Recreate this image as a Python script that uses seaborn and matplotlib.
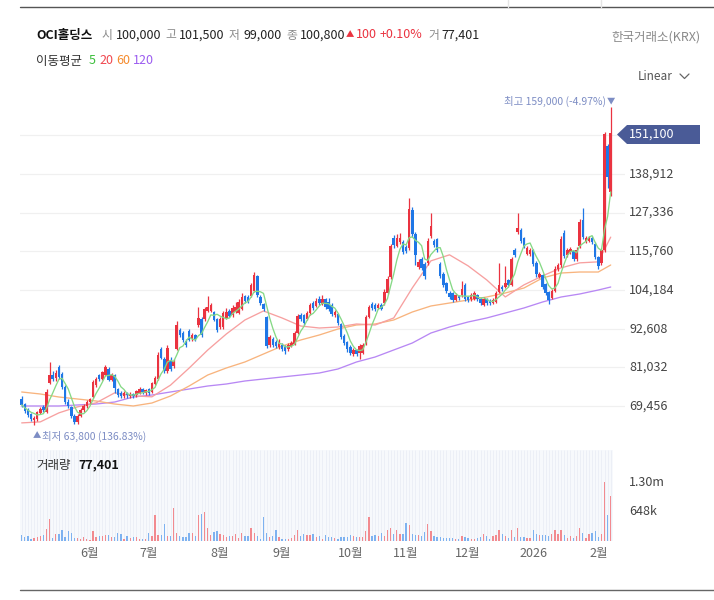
import numpy as np
import pandas as pd
import seaborn as sns
import matplotlib.pyplot as plt
from matplotlib.patches import Polygon
from matplotlib.lines import Line2D
from matplotlib.transforms import blended_transform_factory

# === Data (prices in thousand won, one entry per trading session) ===
open_k = [
    71.5, 70.0, 68.2, 67.0, 65.3, 65.5, 67.4, 69.2, 67.8, 76.4,
    78.8, 77.8, 81.0, 79.0, 75.0, 70.6, 69.2, 66.6, 64.8, 66.6,
    68.2, 69.4, 70.6, 72.2, 75.6, 78.6, 77.6, 78.8, 80.6, 77.2,
    78.6, 74.4, 73.2, 72.4, 73.2, 72.4, 73.0, 72.6, 73.4, 74.4,
    73.4, 74.4, 73.6, 76.0, 77.6, 86.6, 83.4, 79.8, 83.0, 81.4,
    86.6, 92.2, 91.2, 89.0, 91.8, 89.4, 90.6, 93.6, 95.6, 95.4,
    98.0, 98.0, 97.6, 95.4, 93.0, 93.2, 95.8, 97.8, 96.6, 97.6,
    97.4, 98.6, 102.4, 102.0, 102.4, 104.0, 108.4, 102.2, 100.0, 96.0,
    87.6, 89.6, 88.6, 87.2, 87.8, 87.0, 86.6, 87.4, 88.0, 91.4,
    96.8, 96.6, 95.6, 97.2, 100.2, 99.4, 101.6, 100.0, 101.4, 100.6,
    99.8, 96.6, 97.0, 94.0, 90.4, 88.6, 87.0, 85.0, 86.2, 85.2,
    85.4, 88.0, 96.2, 100.0, 99.8, 98.8, 99.8, 100.2, 103.4, 108.0,
    119.6, 117.4, 118.4, 118.6, 117.0, 116.6, 128.2, 121.0, 111.2, 113.4,
    112.0, 112.2, 120.2, 118.8, 119.4, 112.0, 109.0, 106.2, 103.4, 103.2,
    101.2, 102.4, 102.6, 105.8, 102.0, 101.4, 101.6, 102.6, 101.4, 99.8,
    101.4, 101.0, 100.4, 100.6, 103.6, 105.2, 105.2, 107.2, 105.8, 116.0,
    121.6, 122.2, 119.6, 115.0, 114.8, 116.0, 112.4, 108.2, 108.6, 106.0,
    103.6, 101.8, 104.0, 110.4, 111.6, 121.2, 114.6, 115.4, 115.8, 113.4,
    117.2, 125.0, 118.6, 118.8, 119.8, 118.0, 114.0, 112.2, 116.0, 147.4,
    133.4,
]
close_k = [
    69.8, 68.0, 66.9, 65.6, 65.8, 67.6, 68.6, 68.2, 73.6, 78.6,
    77.6, 79.4, 78.0, 75.2, 70.8, 69.4, 66.4, 64.8, 66.6, 68.4,
    69.6, 70.8, 71.6, 76.6, 77.6, 77.4, 79.6, 81.2, 77.2, 78.8,
    74.8, 72.8, 72.4, 73.2, 72.6, 73.0, 72.4, 73.8, 74.4, 73.6,
    74.2, 73.2, 76.2, 77.8, 84.8, 83.8, 79.8, 86.8, 80.4, 83.0,
    93.6, 90.8, 89.2, 87.6, 89.2, 90.6, 89.4, 95.8, 90.6, 98.4,
    99.2, 99.6, 95.2, 92.2, 95.6, 97.2, 97.6, 96.4, 98.8, 99.0,
    100.6, 102.2, 101.0, 100.8, 105.8, 108.6, 102.8, 100.2, 98.4, 87.4,
    90.0, 87.6, 87.4, 88.6, 86.4, 85.8, 87.6, 88.4, 91.2, 96.4,
    95.6, 94.4, 97.4, 99.6, 98.8, 101.0, 100.2, 101.6, 99.2, 98.4,
    97.0, 97.6, 94.4, 90.2, 88.4, 86.4, 85.2, 86.2, 85.0, 87.4,
    87.6, 96.0, 99.0, 98.8, 98.6, 99.8, 98.6, 103.6, 107.6, 117.2,
    117.6, 119.6, 119.8, 115.6, 115.8, 128.4, 120.8, 114.6, 112.6, 110.8,
    108.4, 118.8, 123.4, 117.6, 116.0, 108.4, 105.6, 104.0, 102.2, 101.2,
    102.6, 101.8, 104.4, 101.6, 101.2, 102.8, 103.2, 101.4, 100.4, 101.6,
    100.4, 100.2, 101.2, 103.2, 105.6, 104.6, 106.2, 105.6, 113.6, 114.6,
    122.6, 118.8, 117.2, 116.6, 116.0, 112.0, 109.0, 109.0, 105.0, 103.4,
    101.2, 103.8, 110.6, 111.8, 119.4, 114.4, 116.2, 116.4, 113.4, 116.2,
    124.4, 120.0, 119.6, 119.8, 118.4, 114.2, 111.4, 116.2, 151.0, 138.0,
    151.1,
]
high_k = [
    72.5, 70.5, 68.8, 67.5, 66.4, 68.0, 69.2, 69.8, 74.4, 82.6,
    80.0, 80.2, 81.6, 79.6, 75.6, 71.6, 69.6, 67.0, 67.0, 68.8,
    70.2, 71.4, 72.0, 77.2, 78.2, 79.0, 80.0, 81.8, 81.0, 79.4,
    79.0, 74.8, 73.8, 73.8, 73.6, 73.6, 73.4, 74.2, 75.0, 74.8,
    74.6, 74.8, 76.6, 78.4, 85.6, 87.2, 84.0, 87.8, 84.0, 83.6,
    94.8, 92.8, 91.8, 89.4, 92.4, 91.4, 91.0, 99.0, 96.0, 99.0,
    102.4, 100.4, 98.0, 95.8, 96.2, 97.8, 98.8, 98.4, 99.6, 100.6,
    101.4, 103.2, 102.8, 102.6, 106.4, 109.6, 108.8, 102.6, 100.4, 96.4,
    90.6, 90.2, 89.2, 89.4, 88.2, 87.6, 88.2, 89.0, 91.8, 97.0,
    97.4, 97.0, 98.0, 100.4, 100.8, 101.8, 102.4, 102.6, 101.8, 101.8,
    100.2, 98.2, 97.4, 94.4, 91.0, 89.0, 87.6, 86.8, 86.6, 88.0,
    88.2, 96.6, 99.6, 100.6, 100.4, 100.4, 100.4, 104.4, 108.4, 118.0,
    120.6, 121.0, 121.2, 119.2, 117.6, 131.6, 129.0, 121.6, 113.4, 114.0,
    112.6, 119.6, 127.2, 119.4, 119.8, 112.6, 109.6, 106.6, 103.8, 103.6,
    103.2, 102.8, 107.0, 106.2, 102.4, 103.4, 103.8, 103.0, 101.8, 102.2,
    101.8, 101.4, 101.8, 103.8, 112.2, 105.8, 111.4, 107.6, 114.2, 116.6,
    127.2, 122.8, 120.0, 117.2, 116.6, 116.4, 112.8, 109.6, 109.0, 106.4,
    104.0, 104.4, 111.4, 112.4, 120.2, 122.0, 116.8, 117.0, 116.2, 117.0,
    125.4, 128.8, 120.2, 120.4, 120.2, 118.4, 114.4, 116.8, 151.6, 148.0,
    159.0,
]
low_k = [
    69.2, 67.5, 66.2, 65.0, 63.8, 65.0, 67.0, 67.8, 67.4, 76.0,
    76.8, 77.0, 77.4, 74.6, 70.2, 68.8, 65.8, 64.2, 64.2, 66.2,
    67.8, 69.0, 70.2, 72.0, 75.2, 77.0, 77.2, 78.4, 76.8, 76.8,
    73.4, 72.2, 71.8, 72.0, 72.0, 71.8, 71.8, 72.2, 73.0, 73.0,
    72.8, 72.8, 73.4, 75.6, 77.2, 83.4, 79.2, 79.4, 79.8, 80.8,
    86.2, 90.2, 88.6, 87.0, 88.8, 89.0, 88.8, 93.2, 90.0, 95.0,
    97.6, 97.6, 94.8, 91.6, 92.4, 92.6, 95.4, 96.0, 96.2, 97.2,
    97.0, 98.2, 100.4, 100.2, 102.0, 103.6, 102.2, 99.6, 97.8, 86.8,
    87.0, 87.0, 86.8, 86.6, 85.8, 85.0, 86.0, 87.0, 87.6, 91.0,
    95.0, 93.8, 95.2, 96.8, 98.2, 99.0, 99.6, 99.6, 98.6, 97.8,
    96.4, 96.0, 93.8, 89.6, 87.8, 85.6, 84.6, 84.4, 84.4, 83.6,
    85.0, 87.6, 95.8, 98.2, 98.0, 98.4, 98.2, 99.8, 103.0, 107.6,
    116.8, 117.0, 117.8, 114.8, 115.2, 116.2, 120.0, 111.8, 110.6, 110.2,
    107.6, 111.8, 119.6, 117.0, 115.4, 107.8, 105.0, 103.4, 101.6, 100.6,
    100.8, 101.2, 102.2, 101.0, 100.6, 101.0, 101.2, 100.8, 99.8, 99.4,
    99.8, 99.6, 100.0, 100.2, 103.2, 104.0, 104.8, 105.0, 105.4, 114.0,
    121.0, 118.2, 116.6, 114.6, 114.4, 111.4, 108.2, 107.8, 104.4, 102.8,
    100.0, 101.4, 103.6, 110.0, 111.2, 113.8, 114.2, 115.0, 112.8, 113.0,
    116.8, 119.4, 118.2, 118.4, 117.8, 113.6, 110.6, 111.8, 115.4, 134.6,
    132.4,
]

# Volume (thousand shares)
volume_k = [
    125, 90, 110, 37, 73, 88, 100, 140, 270, 490,
    73, 145, 160, 235, 88, 210, 180, 73, 73, 51,
    88, 51, 29, 210, 88, 110, 110, 125, 125, 88,
    88, 180, 160, 51, 110, 73, 88, 88, 37, 51,
    51, 180, 110, 565, 140, 140, 380, 110, 110, 730,
    175, 110, 88, 88, 180, 180, 100, 565, 600, 630,
    290, 140, 200, 210, 160, 140, 88, 110, 110, 160,
    73, 180, 110, 100, 290, 180, 110, 37, 530, 180,
    88, 100, 235, 88, 51, 51, 51, 73, 140, 250,
    100, 160, 140, 125, 160, 88, 110, 51, 140, 88,
    88, 73, 51, 88, 88, 88, 140, 110, 88, 88,
    88, 210, 535, 100, 140, 110, 180, 100, 235, 290,
    160, 250, 145, 145, 400, 345, 160, 140, 125, 110,
    200, 365, 220, 110, 88, 88, 73, 73, 66, 66,
    51, 37, 100, 88, 73, 37, 51, 66, 88, 160,
    100, 51, 100, 140, 250, 160, 110, 73, 250, 88,
    290, 88, 88, 66, 73, 235, 160, 125, 140, 140,
    100, 160, 235, 160, 250, 140, 66, 110, 73, 110,
    290, 180, 66, 145, 175, 210, 88, 160, 1310, 565,
    990,
]

ma_idx = [0, 6, 12, 18, 24, 30, 36, 42, 48, 54, 60, 66, 72, 78, 84, 90, 96,
          102, 108, 114, 120, 126, 132, 138, 144, 150, 156, 162, 168, 174, 180, 186, 190]
ma20_k = [64.4, 64.7, 67.4, 69.2, 70.4, 73.4, 72.5, 72.2, 75.7, 80.8, 86.2,
          91.0, 95.2, 97.9, 95.8, 93.4, 92.8, 93.1, 94.0, 93.7, 95.8, 104.8,
          112.9, 114.7, 111.4, 107.2, 102.1, 105.7, 108.4, 110.8, 112.3, 112.6, 120.0]
ma60_k = [73.65, 73.05, 72.15, 71.55, 70.95, 70.05, 69.46, 70.35, 72.45, 75.44,
          78.73, 80.83, 82.63, 85.02, 87.41, 89.21, 90.71, 92.50, 93.70, 94.00,
          95.20, 97.59, 99.39, 100.28, 101.18, 102.08, 103.28, 104.77, 107.77,
          109.26, 109.56, 109.56, 111.66]
ma120_k = [69.46, 69.46, 69.46, 69.76, 70.05, 70.65, 72.15, 72.75, 73.65, 74.54,
           75.44, 76.04, 76.94, 77.54, 78.14, 78.73, 79.33, 80.53, 82.63, 84.12,
           86.22, 88.31, 91.30, 93.10, 94.60, 95.80, 97.29, 98.79, 100.58, 102.08,
           102.98, 104.17, 105.07]

price_ticks = [69456, 81032, 92608, 104184, 115760, 127336, 138912, 150488]
month_idx = [22, 41, 64, 84, 106, 124, 144, 165, 186]
month_lbl = ["6월", "7월", "8월", "9월", "10월", "11월", "12월", "2026", "2월"]
vol_ticks = [648000, 1296000]
vol_lbl = ["648k", "1.30m"]

# === Build frame ===
df = pd.DataFrame({
    "open": np.array(open_k) * 1000,
    "close": np.array(close_k) * 1000,
    "high": np.array(high_k) * 1000,
    "low": np.array(low_k) * 1000,
    "volume": np.array(volume_k) * 1000,
})
df["idx"] = np.arange(len(df))
df["ma5"] = df["close"].rolling(5, min_periods=1).mean()
df["up"] = df["close"] >= df["open"]

RED, BLUE = "#ea3340", "#1f77e6"
VRED, VBLUE = "#f28a8f", "#7eb2f0"
MA_COL = {"5": "#86d986", "20": "#f7a0a0", "60": "#f8b47e", "120": "#b888f4"}
NOTE = "#7d8dc4"

sns.set_theme(style="white")
plt.rcParams['font.family'] = ['Noto Sans CJK KR', 'DejaVu Sans']

W, H = 714, 600
fig = plt.figure(figsize=(W / 100, H / 100), dpi=100)


def fx(px):
    return px / W


def fy(py):
    return 1 - py / H


def ftext(px, py, s, **kw):
    kw.setdefault("va", "center")
    fig.text(fx(px), fy(py), s, **kw)


# Price pane
ax = fig.add_axes([fx(20), fy(447), fx(625) - fx(20), (447 - 95) / H])
ax.set_xlim(-0.55, -0.55 + 605 / 3.1)
ax.set_ylim(57185, 162538)
for s in ax.spines.values():
    s.set_visible(False)
ax.set_yticks(price_ticks)
ax.set_yticklabels([])
ax.set_xticks([])
ax.tick_params(length=0)
ax.yaxis.grid(True, color="#f0f0f0", lw=0.9)
ax.set_axisbelow(True)

# Moving average lines
sns.lineplot(x=np.array(ma_idx), y=np.array(ma120_k) * 1000, ax=ax, color=MA_COL["120"], lw=0.95, zorder=2)
sns.lineplot(x=np.array(ma_idx), y=np.array(ma60_k) * 1000, ax=ax, color=MA_COL["60"], lw=0.95, zorder=2)
sns.lineplot(x=np.array(ma_idx), y=np.array(ma20_k) * 1000, ax=ax, color=MA_COL["20"], lw=0.95, zorder=2)
sns.lineplot(data=df, x="idx", y="ma5", ax=ax, color=MA_COL["5"], lw=0.95, zorder=5)

# Candles
col = np.where(df["up"], RED, BLUE)
body_lo = np.minimum(df["open"], df["close"])
body_h = np.maximum((df["close"] - df["open"]).abs(), 300)
ax.vlines(df["idx"], df["low"], df["high"], colors=col, lw=0.9, zorder=3)
ax.bar(df["idx"], body_h, bottom=body_lo, width=0.78, color=col, linewidth=0, zorder=4)
ax.set_xlabel("")
ax.set_ylabel("")

# Price labels on the right
ptrans = blended_transform_factory(fig.transFigure, ax.transData)
for v in price_ticks[:-1]:
    ax.text(fx(629), v, f"{v:,}", transform=ptrans, ha="left", va="center",
            fontsize=9, color="#444444")

# Volume pane
axv = fig.add_axes([fx(20), fy(541), fx(613) - fx(20), (541 - 450) / H])
axv.set_facecolor("#f7f9fc")
axv.set_xlim(-0.55, -0.55 + 593 / 3.1)
axv.set_ylim(0, 2_010_000)
for s in axv.spines.values():
    s.set_visible(False)
axv.vlines(df["idx"], 0, 2_010_000, colors="#eaeef6", lw=0.6, zorder=0)
vcol = np.where(df["up"], VRED, VBLUE)
axv.bar(df["idx"], df["volume"], width=0.42, color=vcol, linewidth=0, zorder=2)
axv.set_yticks([])
axv.set_xticks(month_idx)
axv.set_xticklabels(month_lbl, fontsize=9, color="#666666")
axv.tick_params(axis="x", length=0, pad=4)
axv.set_xlabel("")
axv.set_ylabel("")
vtrans = blended_transform_factory(fig.transFigure, axv.transData)
for v, lbl in zip(vol_ticks, vol_lbl):
    axv.text(fx(629), v, lbl, transform=vtrans, ha="left", va="center",
             fontsize=9, color="#444444")

# === Header texts ===
ftext(36, 35, "OCI홀딩스", fontsize=9, weight="bold", color="#111111")
for x0, lab, x1, val in [(101, "시", 116, "100,000"), (165, "고", 179, "101,500"),
                         (229, "저", 243, "99,000"), (286, "종", 300, "100,800"),
                         (428, "거", 441, "77,401")]:
    ftext(x0, 35, lab, fontsize=8.5, color="#8a8a8a")
    ftext(x1, 35, val, fontsize=9, color="#222222")
ftext(346, 35, "▲", fontsize=6, color=RED)
ftext(356, 35, "100", fontsize=9, color=RED)
ftext(380, 35, "+0.10%", fontsize=9, color=RED)
ftext(700, 37, "한국거래소(KRX)", fontsize=9, color="#8a8a8a", ha="right")

ftext(36, 61, "이동평균", fontsize=9, color="#333333")
ftext(89, 61, "5", fontsize=9, color="#3cbf3c")
ftext(99, 61, "20", fontsize=9, color="#f0474f")
ftext(116, 61, "60", fontsize=9, color="#f58b2e")
ftext(133, 61, "120", fontsize=9, color="#9b5cf0")

ftext(673, 76, "Linear", fontsize=8.5, color="#555555", ha="right")
fig.add_artist(Line2D([fx(680), fx(684.5), fx(689)], [fy(74), fy(78.5), fy(74)],
                      color="#666666", lw=0.9, transform=fig.transFigure))

# High / low notes
ftext(606, 101, "최고 159,000 (-4.97%)", fontsize=7.5, color=NOTE, ha="right")
ftext(611, 101, "▼", fontsize=6, color=NOTE, ha="center")
ftext(37, 436, "▲", fontsize=6, color=NOTE, ha="center")
ftext(42, 436, "최저 63,800 (136.83%)", fontsize=7.5, color=NOTE)

# Current price tag
tag = Polygon([(fx(617), fy(134.5)), (fx(627), fy(125)), (fx(700), fy(125)),
               (fx(700), fy(144)), (fx(627), fy(144))], closed=True,
              facecolor="#4a5b97", edgecolor="none", transform=fig.transFigure)
fig.add_artist(tag)
ftext(629, 134.5, "151,100", fontsize=9, color="white")

# Volume title
ftext(36, 465, "거래량", fontsize=9, color="#333333")
ftext(78, 465, "77,401", fontsize=9, weight="bold", color="#111111")

# Page separator lines
fig.add_artist(Line2D([fx(20), fx(714)], [fy(7), fy(7)], color="#555555", lw=1, transform=fig.transFigure))
fig.add_artist(Line2D([fx(508), fx(508)], [fy(0), fy(7)], color="#e5e5e5", lw=1, transform=fig.transFigure))
fig.add_artist(Line2D([fx(601), fx(601)], [fy(0), fy(7)], color="#e5e5e5", lw=1, transform=fig.transFigure))
fig.add_artist(Line2D([fx(20), fx(714)], [fy(590), fy(590)], color="#666666", lw=1, transform=fig.transFigure))

fig.savefig("out.png", dpi=100)
